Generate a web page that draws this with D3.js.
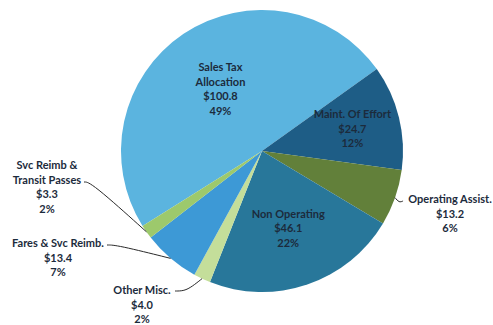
<!DOCTYPE html>
<html lang="en">
<head>
    <meta charset="UTF-8">
    <title>Revenue Pie</title>
    <script src="https://cdnjs.cloudflare.com/ajax/libs/d3/7.8.5/d3.min.js"></script>
    <style>
        body { margin: 0; background: #fff; }
        text { font-family: Lato, "Open Sans", sans-serif; font-weight: 700; font-size: 11px; fill: #1c2b3c; }
    </style>
</head>
<body>
    <script>
        // Slice data, clockwise from Sales Tax
        var categories = [
            ["Sales Tax", "Allocation"],
            ["Maint. Of Effort"],
            ["Operating Assist."],
            ["Non Operating"],
            ["Other Misc."],
            ["Fares & Svc Reimb."],
            ["Svc Reimb &", "Transit Passes"]
        ];
        var values = [100.8, 24.7, 13.2, 46.1, 4.0, 13.4, 3.3];
        var amountLabels = ["$100.8", "$24.7", "$13.2", "$46.1", "$4.0", "$13.4", "$3.3"];
        var percentLabels = ["49%", "12%", "6%", "22%", "2%", "7%", "2%"];
        var colors = ["#5bb4df", "#1e5d86", "#62803a", "#28779a", "#c4de9a", "#3d99d6", "#9dc96c"];

        var width = 493, height = 325;
        var cx = 262, cy = 151, radius = 141;
        var lineH = 14.6;

        var svg = d3.select("body")
            .append("svg")
            .attr("width", width)
            .attr("height", height);

        var g = svg.append("g").attr("transform", "translate(" + cx + "," + cy + ")");

        var deg = Math.PI / 180;
        var total = d3.sum(values);
        var start = 54.5 * deg - values[0] / total * 2 * Math.PI;

        var pie = d3.pie().sort(null).startAngle(start).endAngle(start + 2 * Math.PI);
        var arcs = pie(values);

        var arc = d3.arc().innerRadius(0).outerRadius(radius);

        g.selectAll("path.slice")
            .data(arcs)
            .enter()
            .append("path")
            .attr("class", "slice")
            .attr("d", arc)
            .attr("fill", function(d, i) { return colors[i]; });

        // label placement: inside labels use a radius factor, outside ones get a text anchor + leader
        var layout = [
            { inside: 0.53 },
            { inside: 0.66 },
            { text: [450, 203], leader: function(p) { return [p, [p[0] + 4, p[1] + 5], [p[0] + 8, 201]]; } },
            { inside: 0.58 },
            { text: [142, 294], leader: function(p) { return [p, [p[0] - 10, p[1] + 8], [p[0] - 18, 291], [p[0] - 27, 291]]; } },
            { text: [58, 247], leader: function(p) { return [p, [117, 245], [107, 245]]; } },
            { text: [47, 169], leader: function(p) { return [p, [91, 182], [84, 182]]; } }
        ];

        function pointAt(d, r) {
            var a = (d.startAngle + d.endAngle) / 2;
            return [Math.sin(a) * r, -Math.cos(a) * r];
        }

        arcs.forEach(function(d, i) {
            var lines = categories[i].concat([amountLabels[i], percentLabels[i]]);
            var L = layout[i];
            var x, y;
            if (L.inside) {
                var c = pointAt(d, radius * L.inside);
                x = cx + c[0];
                y = cy + c[1] - (lines.length - 1) * lineH / 2 + 4;
            } else {
                x = L.text[0];
                y = L.text[1];
                var e = pointAt(d, radius);
                var pts = L.leader([cx + e[0], cy + e[1]]);
                svg.append("path")
                    .attr("d", d3.line().curve(d3.curveBasis)(pts))
                    .attr("fill", "none")
                    .attr("stroke", "#2a2a2a")
                    .attr("stroke-width", 1);
            }
            var t = svg.append("text")
                .attr("text-anchor", L.inside || i === 2 ? "middle" : "middle")
                .attr("x", x)
                .attr("y", y);
            lines.forEach(function(s, k) {
                t.append("tspan").attr("x", x).attr("y", y + k * lineH).text(s);
            });
        });
    </script>
</body>
</html>
